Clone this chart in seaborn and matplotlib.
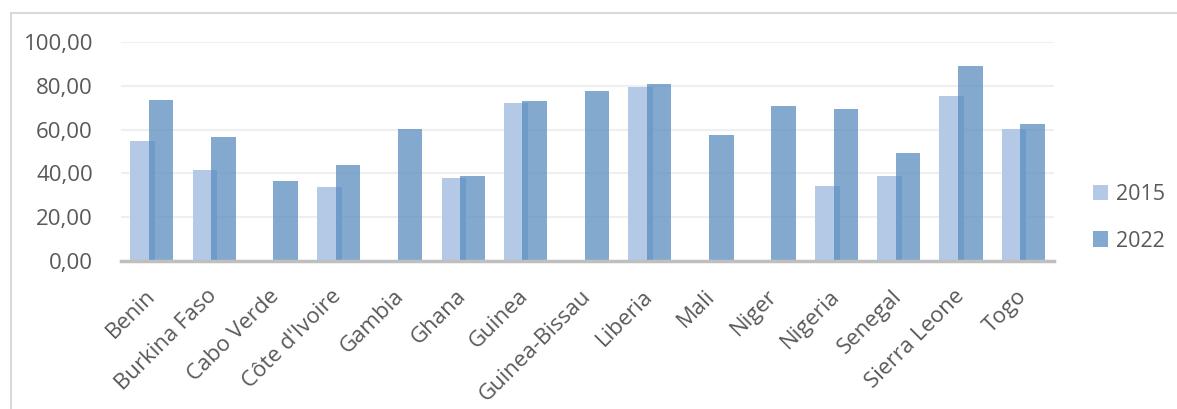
import numpy as np
import pandas as pd
import matplotlib
matplotlib.use("Agg")
import matplotlib.pyplot as plt
from matplotlib.patches import Rectangle, Patch
from matplotlib.ticker import FuncFormatter
import seaborn as sns

countries = ["Benin", "Burkina Faso", "Cabo Verde", "Côte d'Ivoire", "Gambia",
             "Ghana", "Guinea", "Guinea-Bissau", "Liberia", "Mali", "Niger",
             "Nigeria", "Senegal", "Sierra Leone", "Togo"]
values_2015 = [54.8, 41.5, np.nan, 33.7, np.nan, 38.0, 72.1, np.nan, 79.5,
               np.nan, np.nan, 34.3, 38.6, 75.5, 60.1]
values_2022 = [73.4, 56.6, 36.6, 43.8, 60.4, 38.9, 72.9, 77.6, 81.0,
               57.5, 70.9, 69.4, 49.4, 89.0, 62.7]
years = ["2015", "2022"]

df = pd.DataFrame({
    "country": countries * 2,
    "year": [years[0]] * len(countries) + [years[1]] * len(countries),
    "value": values_2015 + values_2022,
})

c2015 = "#b4c9e6"
c2022 = "#568abe"
text_color = "#595959"

sns.set_theme(style="white")
plt.rcParams["font.family"] = ["Open Sans", "DejaVu Sans"]

fig = plt.figure(figsize=(11.77, 4.09), dpi=100)
ax = fig.add_axes([0.1026, 0.3619, 0.7932, 0.5354])

sns.barplot(data=df, x="country", y="value", hue="year", order=countries,
            hue_order=years, palette=[c2015, c2022], width=0.788,
            errorbar=None, legend=False, ax=ax, saturation=1)

# Excel-style overlap: pull each pair of bars toward the category centre
shift = 0.048
for i, cont in enumerate(ax.containers):
    for bar in cont:
        bar.set_x(bar.get_x() + (shift if i == 0 else -shift))
        bar.set_edgecolor("none")
        bar.set_linewidth(0)
        if i == 1:
            bar.set_alpha(0.73)

ax.set_ylim(0, 100)
ax.set_xlim(-0.5, len(countries) - 0.5)
ax.set_yticks(np.arange(0, 101, 20))
ax.yaxis.set_major_formatter(FuncFormatter(lambda v, p: f"{v:.2f}".replace(".", ",")))
ax.grid(axis="y", color="#efefef", linewidth=1.5)
ax.set_axisbelow(True)
for side in ["left", "right", "top"]:
    ax.spines[side].set_visible(False)
ax.spines["bottom"].set_color("#bfbfbf")
ax.spines["bottom"].set_linewidth(2.5)
ax.tick_params(axis="both", length=0, labelsize=16, colors=text_color)
ax.tick_params(axis="y", pad=20)
ax.tick_params(axis="x", pad=23)
ax.set_xlabel("")
ax.set_ylabel("")
for lbl in ax.get_xticklabels():
    lbl.set_rotation(45)
    lbl.set_ha("right")
    lbl.set_va("center")
    lbl.set_rotation_mode("anchor")

handles = [Patch(facecolor=c2015, edgecolor="none"),
           Patch(facecolor=c2022, alpha=0.73, edgecolor="none")]
leg = fig.legend(handles, years, loc="center left", bbox_to_anchor=(0.912, 0.468),
                 frameon=False, fontsize=15.5, handlelength=0.7, handleheight=0.7,
                 handletextpad=0.4, labelspacing=1.2, labelcolor=text_color)

fig.patches.append(Rectangle((11 / 1177, -0.1), 1.1, 0.1 + 1 - 13 / 409,
                             transform=fig.transFigure, fill=False,
                             edgecolor="#d9d9d9", linewidth=1.5))

fig.savefig("out.png", dpi=100, facecolor="white")
